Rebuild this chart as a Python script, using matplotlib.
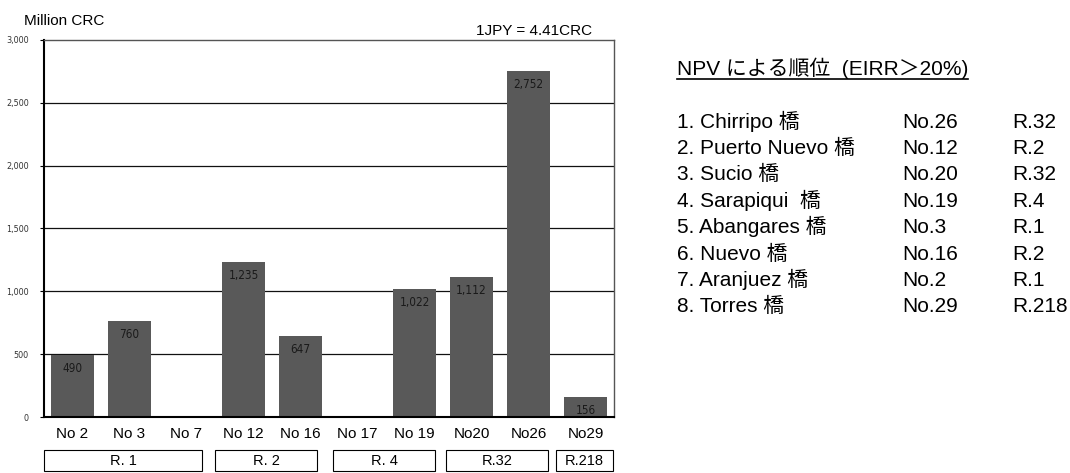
import matplotlib
matplotlib.use("Agg")
import matplotlib.pyplot as plt
import numpy as np
from matplotlib.patches import Rectangle
import matplotlib.transforms as mtransforms
from matplotlib import font_manager

plt.rcParams['font.family'] = ['Liberation Sans', 'Noto Sans CJK JP', 'DejaVu Sans']
_names = {f.name for f in font_manager.fontManager.ttflist}
NARROW = 'Liberation Sans Narrow' if 'Liberation Sans Narrow' in _names else None

categories = ["No 2", "No 3", "No 7", "No 12", "No 16", "No 17", "No 19", "No20", "No26", "No29"]
npv = [490, 760, np.nan, 1235, 647, np.nan, 1022, 1112, 2752, 156]
yticks = [0, 500, 1000, 1500, 2000, 2500, 3000]
ytick_labels = ["0", "500", "1,000", "1,500", "2,000", "2,500", "3,000"]

route_names = ["R. 1", "R. 2", "R. 4", "R.32", "R.218"]
route_spans = [(-0.5, 2.27), (2.5, 4.29), (4.57, 6.36), (6.55, 8.34), (8.48, 9.48)]

rank_title = "NPV による順位  (EIRR＞20%)"
rank_bridges = ["1. Chirripo 橋", "2. Puerto Nuevo 橋", "3. Sucio 橋", "4. Sarapiqui  橋",
                "5. Abangares 橋", "6. Nuevo 橋", "7. Aranjuez 橋", "8. Torres 橋"]
rank_nos = ["No.26", "No.12", "No.20", "No.19", "No.3", "No.16", "No.2", "No.29"]
rank_routes = ["R.32", "R.2", "R.32", "R.4", "R.1", "R.2", "R.1", "R.218"]

W, H = 1070, 473
fig = plt.figure(figsize=(W / 100, H / 100), dpi=100)
ax = fig.add_axes([44 / W, 1 - 417 / H, 570 / W, 377 / H])

if NARROW:
    small_font = dict(family=NARROW)
    val_fs, tick_fs = 10.5, 8
else:
    small_font = dict(family='DejaVu Sans', stretch='condensed')
    val_fs, tick_fs = 8.5, 6.5

x = np.arange(len(categories))
vals = np.array(npv, dtype=float)
for yv in yticks[1:-1]:
    ax.axhline(yv, color="#111111", lw=0.9, zorder=1)
ax.bar(x, np.nan_to_num(vals), width=0.77, color="#595959", zorder=2)
for xi, v in zip(x, vals):
    if np.isfinite(v):
        ax.annotate(f"{int(v):,}", (xi, v), xytext=(0, -5), textcoords="offset points",
                    ha="center", va="top", fontsize=val_fs, color="#1a1a1a", zorder=3,
                    **small_font)

ax.set_xlim(-0.5, len(categories) - 0.5)
ax.set_ylim(0, 3000)
ax.set_yticks(yticks)
ax.set_yticklabels(ytick_labels)
for lab in ax.get_yticklabels():
    lab.set_fontsize(tick_fs)
    lab.set_color("#333333")
    if NARROW:
        lab.set_family(NARROW)
    else:
        lab.set_family('DejaVu Sans')
        lab.set_stretch('condensed')
ax.set_xticks(x)
ax.set_xticklabels(categories, fontsize=11)
ax.tick_params(axis="x", length=0, pad=7)
ax.tick_params(axis="y", length=3, width=0.8, pad=8)
for s in ["left", "bottom"]:
    ax.spines[s].set_color("black")
    ax.spines[s].set_linewidth(1.5)
for s in ["top", "right"]:
    ax.spines[s].set_color("#555555")
    ax.spines[s].set_linewidth(1.0)

trans = mtransforms.blended_transform_factory(ax.transData, ax.transAxes)
y0 = (417 - 471) / 377
y1 = (417 - 450) / 377
for name, (a, b) in zip(route_names, route_spans):
    ax.add_patch(Rectangle((a, y0), b - a, y1 - y0, transform=trans, fill=False,
                           edgecolor="black", lw=0.8, clip_on=False))
    ax.text((a + b) / 2, (y0 + y1) / 2, name, transform=trans, ha="center", va="center",
            fontsize=10.5)

fig.text(24 / W, 1 - 25 / H, "Million CRC", fontsize=11, ha="left", va="baseline")
fig.text(592 / W, 1 - 35 / H, "1JPY = 4.41CRC", fontsize=11, ha="right", va="baseline")

FS = 15
t = fig.text(677 / W, 1 - 75 / H, rank_title, fontsize=FS, ha="left", va="baseline")
fig.canvas.draw()
bb = t.get_window_extent()
fig.add_artist(plt.Line2D([bb.x0 / W, bb.x1 / W], [(H - 79) / H, (H - 79) / H],
                          transform=fig.transFigure, color="black", lw=1.2))

for i, (b, n, r) in enumerate(zip(rank_bridges, rank_nos, rank_routes)):
    yy = 1 - (127.5 + i * 26.4) / H
    fig.text(677 / W, yy, b, fontsize=FS, ha="left", va="baseline")
    fig.text(902 / W, yy, n, fontsize=FS, ha="left", va="baseline")
    fig.text(1012 / W, yy, r, fontsize=FS, ha="left", va="baseline")

fig.savefig("out.png", dpi=100)
